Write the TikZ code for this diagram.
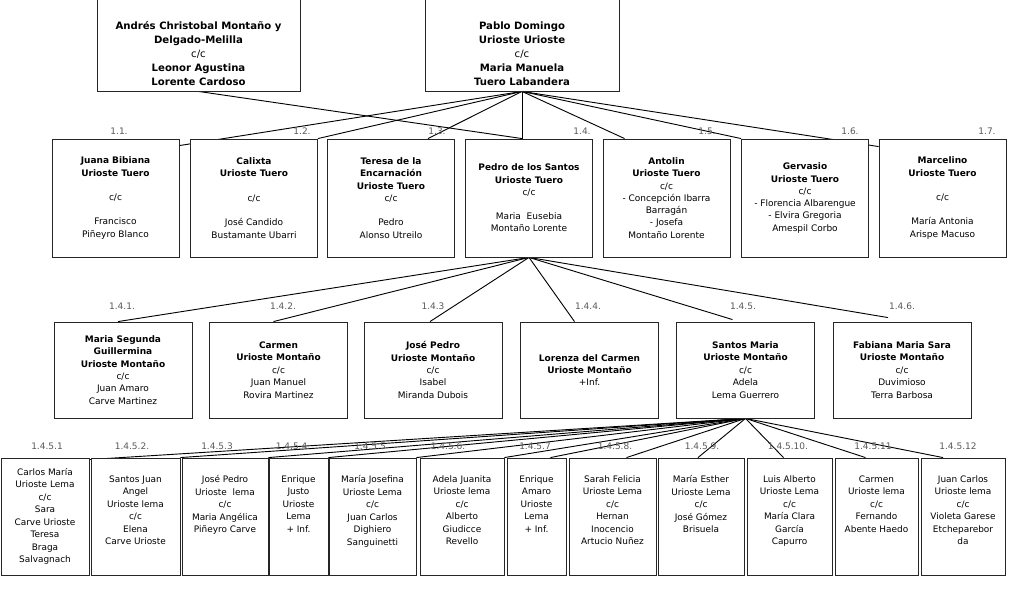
\documentclass[tikz,border=0pt]{standalone}
\usepackage{fontspec}
\setmainfont{DejaVu Sans}
\usetikzlibrary{backgrounds,calc}

\tikzset{
  padres/.style={draw=black!85, fill=white, line width=0.6pt, minimum width=#1, minimum height=2.3cm, inner sep=0pt, align=center, font=\fontsize{7.2}{10}\selectfont},
  hijo/.style={draw=black!85, fill=white, line width=0.6pt, minimum width=3.175cm, minimum height=2.95cm, inner sep=0pt, align=center, font=\fontsize{6.4}{8.7}\selectfont},
  nieto/.style={draw=black!85, fill=white, line width=0.6pt, minimum width=3.45cm, minimum height=2.4cm, inner sep=0pt, align=center, font=\fontsize{6.4}{8.8}\selectfont},
  bisnieto/.style={draw=black!85, fill=white, line width=0.6pt, minimum width=#1, minimum height=2.925cm, inner sep=0pt, align=center, font=\fontsize{6.35}{8.9}\selectfont},
  num/.style={inner sep=0pt, font=\fontsize{6.4}{7}\selectfont, text=black!65},
  rama/.style={line width=0.65pt}
}

\begin{document}
\begin{tikzpicture}[x=0.025cm, y=-0.025cm]
\useasboundingbox (0,0) rectangle (1024,597);

% padres
\node[padres=5.075cm] (andres) at (198.5,45) {\rule{0pt}{17.7pt}\textbf{Andrés Christobal Montaño y}\\\textbf{Delgado-Melilla}\\c/c\\\textbf{Leonor Agustina}\\\textbf{Lorente Cardoso}};
\node[padres=4.85cm] (pablo) at (522,45) {\rule{0pt}{17.7pt}\textbf{Pablo Domingo}\\\textbf{Urioste Urioste}\\c/c\\\textbf{Maria Manuela}\\\textbf{Tuero Labandera}};

% hijos
\node[hijo] (juana) at (115.5,198) {\textbf{Juana Bibiana}\\\textbf{Urioste Tuero}\\[8.7pt]c/c\\[8.7pt]Francisco\\Piñeyro Blanco};
\node[hijo] (calixta) at (254,198) {\textbf{Calixta}\\\textbf{Urioste Tuero}\\[8.7pt]c/c\\[8.7pt]José Candido\\Bustamante Ubarri};
\node[hijo] (teresa) at (391,198) {\textbf{Teresa de la}\\\textbf{Encarnación}\\\textbf{Urioste Tuero}\\c/c\\[8.7pt]Pedro\\Alonso Utreilo};
\node[hijo] (pedro) at (529,198) {\textbf{Pedro de los Santos}\\\textbf{Urioste Tuero}\\c/c\\[8.7pt]Maria\ \ Eusebia\\Montaño Lorente};
\node[hijo] (antolin) at (666.5,198) {\textbf{Antolin}\\\textbf{Urioste Tuero}\\c/c\\- Concepción Ibarra\\Barragán\\- Josefa\\Montaño Lorente};
\node[hijo] (gervasio) at (805,198) {\textbf{Gervasio}\\\textbf{Urioste Tuero}\\c/c\\- Florencia Albarengue\\- Elvira Gregoria\\Amespil Corbo};
\node[hijo] (marcelino) at (942.5,198) {\textbf{Marcelino}\\\textbf{Urioste Tuero}\\[8.7pt]c/c\\[8.7pt]María Antonia\\Arispe Macuso};

\node[num] (l11) at (119,131) {1.1.};
\node[num] (l12) at (302,131) {1.2.};
\node[num] (l13) at (437,131) {1.3.};
\node[num] (l14) at (582,131) {1.4.};
\node[num] (l15) at (707,131) {1.5.};
\node[num] (l16) at (850,131) {1.6.};
\node[num] (l17) at (987,131) {1.7.};

% nietos
\node[nieto] (msegunda) at (123,370) {\textbf{Maria Segunda}\\\textbf{Guillermina}\\\textbf{Urioste Montaño}\\c/c\\Juan Amaro\\Carve Martinez};
\node[nieto] (carmen) at (278.5,370) {\textbf{Carmen}\\\textbf{Urioste Montaño}\\c/c\\Juan Manuel\\Rovira Martinez};
\node[nieto] (jpedro) at (433,370) {\textbf{José Pedro}\\\textbf{Urioste Montaño}\\c/c\\Isabel\\Miranda Dubois};
\node[nieto] (lorenza) at (589.5,370) {\textbf{Lorenza del Carmen}\\\textbf{Urioste Montaño}\\+Inf.};
\node[nieto] (santos) at (745.5,370) {\textbf{Santos Maria}\\\textbf{Urioste Montaño}\\c/c\\Adela\\Lema Guerrero};
\node[nieto] (fabiana) at (902,370) {\textbf{Fabiana Maria Sara}\\\textbf{Urioste Montaño}\\c/c\\Duvimioso\\Terra Barbosa};

\node[num] (l141) at (122,306) {1.4.1.};
\node[num] (l142) at (283,306) {1.4.2.};
\node[num] (l143) at (433,306) {1.4.3};
\node[num] (l144) at (588,306) {1.4.4.};
\node[num] (l145) at (743,306) {1.4.5.};
\node[num] (l146) at (902,306) {1.4.6.};

% bisnietos
\node[bisnieto=2.2cm] (b1) at (45,516.5) {Carlos María\\Urioste Lema\\c/c\\Sara\\Carve Urioste\\Teresa\\Braga\\Salvagnach};
\node[bisnieto=2.225cm] (b2) at (135.5,516.5) {Santos Juan\\Angel\\Urioste lema\\c/c\\Elena\\Carve Urioste\\~};
\node[bisnieto=2.15cm] (b3) at (225,516.5) {José Pedro\\Urioste\ \ lema\\c/c\\Maria Angélica\\Piñeyro Carve\\~\\~};
\node[bisnieto=1.475cm] (b4) at (298.5,516.5) {Enrique\\Justo\\Urioste\\Lema\\+ Inf.\\~\\~};
\node[bisnieto=2.175cm] (b5) at (372.5,516.5) {María Josefina\\Urioste Lema\\c/c\\Juan Carlos\\Dighiero\\Sanguinetti\\~};
\node[bisnieto=2.1cm] (b6) at (462,516.5) {Adela Juanita\\Urioste lema\\c/c\\Alberto\\Giudicce\\Revello\\~};
\node[bisnieto=1.475cm] (b7) at (536.5,516.5) {Enrique\\Amaro\\Urioste\\Lema\\+ Inf.\\~\\~};
\node[bisnieto=2.175cm] (b8) at (612.5,516.5) {Sarah Felicia\\Urioste Lema\\c/c\\Hernan\\Inocencio\\Artucio Nuñez\\~};
\node[bisnieto=2.15cm] (b9) at (701,516.5) {María Esther\\Urioste Lema\\c/c\\José Gómez\\Brisuela\\~\\~};
\node[bisnieto=2.125cm] (b10) at (789.5,516.5) {Luis Alberto\\Urioste Lema\\c/c\\María Clara\\García\\Capurro\\~};
\node[bisnieto=2.075cm] (b11) at (876.5,516.5) {Carmen\\Urioste lema\\c/c\\Fernando\\Abente Haedo\\~\\~};
\node[bisnieto=2.1cm] (b12) at (963,516.5) {Juan Carlos\\Urioste lema\\c/c\\Violeta Garese\\Etcheparebor\\da\\~};

\node[num] (l1451) at (47,446) {1.4.5.1};
\node[num] (l1452) at (132,446) {1.4.5.2.};
\node[num] (l1453) at (217,446) {1.4.5.3};
\node[num] (l1454) at (293,446) {1.4.5.4.};
\node[num] (l1455) at (370,446) {1.4.5.5};
\node[num] (l1456) at (448,446) {1.4.5.6.};
\node[num] (l1457) at (535,446) {1.4.5.7};
\node[num] (l1458) at (615,446) {1.4.5.8.};
\node[num] (l1459) at (702,446) {1.4.5.9.};
\node[num] (l14510) at (788,446) {1.4.5.10.};
\node[num] (l14511) at (873,446) {1.4.5.11};
\node[num] (l14512) at (958,446) {1.4.5.12};

% ramas
\begin{pgfonlayer}{background}
\draw[rama] (andres.south) -- (pablo.south |- pedro.north);
\draw[rama] (pablo.south) -- ($(juana.north east)+(0,7)$);
\draw[rama] (pablo.south) -- (calixta.north east);
\draw[rama] (pablo.south) -- ($(teresa.north east)+(-27,0)$);
\draw[rama] (pablo.south) -- (pablo.south |- pedro.north);
\draw[rama] (pablo.south) -- ($(antolin.north west)+(22,0)$);
\draw[rama] (pablo.south) -- (gervasio.north west);
\draw[rama] (pablo.south) -- ($(marcelino.north west)+(0,8)$);

\draw[rama] (pedro.south) -- ($(msegunda.north)+(-5,0)$);
\draw[rama] (pedro.south) -- ($(carmen.north)+(-5,0)$);
\draw[rama] (pedro.south) -- ($(jpedro.north)+(-3,0)$);
\draw[rama] (pedro.south) -- ($(lorenza.north)+(-15,0)$);
\draw[rama] (pedro.south) -- ($(santos.north)+(-13,-2)$);
\draw[rama] (pedro.south) -- ($(fabiana.north)+(-14,-4)$);

\draw[rama] (santos.south) -- ($(b1.north east)+(0,2)$);
\draw[rama] (santos.south) -- (b2.north east);
\draw[rama] (santos.south) -- (b3.north east);
\draw[rama] (santos.south) -- (b4.north east);
\draw[rama] (santos.south) -- (b5.north east);
\draw[rama] (santos.south) -- (b6.north east);
\draw[rama] (santos.south) -- ($(b7.north)+(14,0)$);
\draw[rama] (santos.south) -- ($(b8.north)+(14,0)$);
\draw[rama] (santos.south) -- ($(b9.north)+(-3,0)$);
\draw[rama] (santos.south) -- ($(b10.north)+(-6,0)$);
\draw[rama] (santos.south) -- ($(b11.north)+(-11,0)$);
\draw[rama] (santos.south) -- ($(b12.north)+(-20,0)$);
\end{pgfonlayer}
\end{tikzpicture}
\end{document}
